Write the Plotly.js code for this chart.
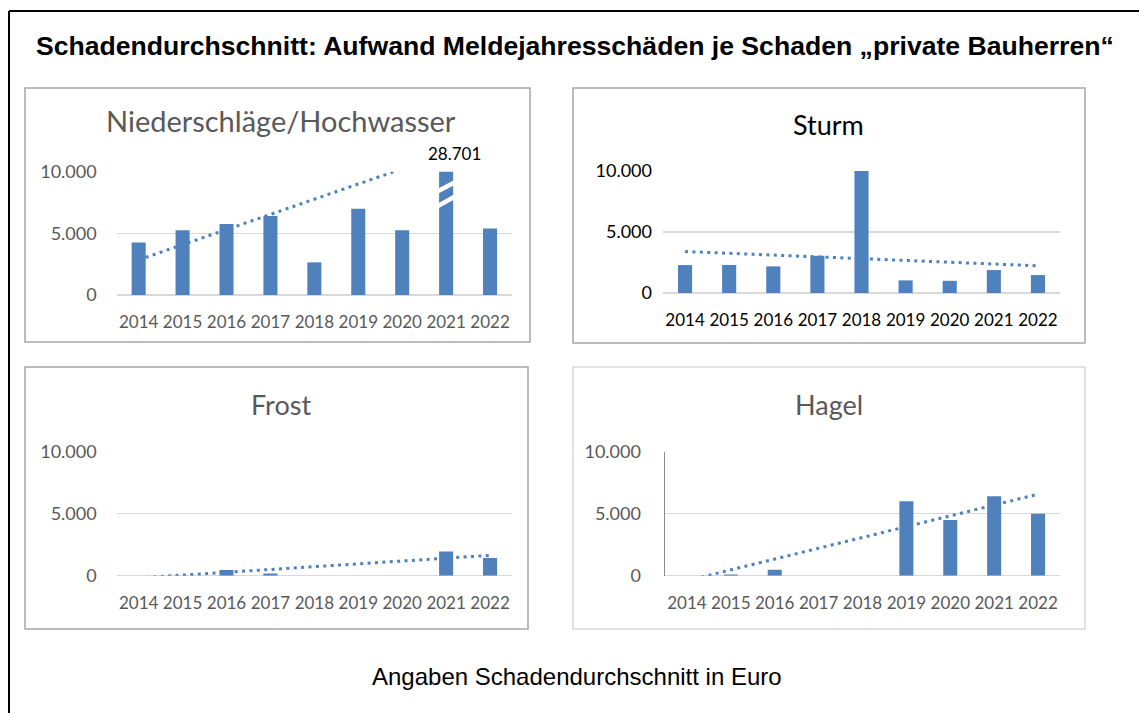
<!DOCTYPE html>
<html>
<head>
<meta charset="utf-8">
<script src="https://cdn.plot.ly/plotly-3.0.1.min.js"></script>
<style>
  html, body { margin: 0; padding: 0; background: #fff; }
  #chart { width: 1139px; height: 713px; }
</style>
</head>
<body>
<div id="chart"></div>
<script>
// ---------------- data ----------------
const years = ["2014", "2015", "2016", "2017", "2018", "2019", "2020", "2021", "2022"];

const niederschlaege = [4250, 5250, 5750, 6400, 2650, 7000, 5250, 28701, 5400];
const sturm          = [2290, 2300, 2180, 3050, 10000, 1035, 1000, 1880, 1470];
const frost          = [0, 0, 450, 180, 0, 0, 0, 1950, 1420];
const hagel          = [0, 100, 480, 0, 0, 6000, 4490, 6400, 5000];

// linear trend lines (value at first and last year)
const trendYears          = ["2014", "2022"];
const trendNiederschlaege = [2850, 12690];
const trendSturm          = [3400, 2230];
const trendFrost          = [-180, 1640];
const trendHagel          = [-400, 6570];

const panelTitles = ["Niederschläge/Hochwasser", "Sturm", "Frost", "Hagel"];
const yTickValues = [0, 5000, 10000];
const outlierLabel = "28.701";
const outlierYear = "2021";

const mainTitle = "Schadendurchschnitt: Aufwand Meldejahresschäden je Schaden „private Bauherren“";
const caption = "Angaben Schadendurchschnitt in Euro";

// ---------------- layout helpers ----------------
const W = 1139, H = 713;
const fx = x => x / W;
const fy = y => 1 - y / H;

const BAR = "rgb(79,129,189)";
const GRID = "#d9d9d9";
const FONT = "Lato, 'Open Sans', sans-serif";

const panels = [
  { data: niederschlaege, trend: trendNiederschlaege, x: [116.7, 512], y: [171.7, 295], color: "#595959", standoff: 19, title: [281, 120, 29], border: [25, 88, 530, 342, "#a6a6a6"], axisLine: false },
  { data: sturm,          trend: trendSturm,          x: [663, 1060],  y: [171, 293],   color: "#000000", standoff: 10, title: [828, 124, 27], border: [573, 88, 1085, 343, "#a6a6a6"], axisLine: false },
  { data: frost,          trend: trendFrost,          x: [116.7, 512], y: [451.7, 575.7], color: "#595959", standoff: 19, title: [281, 404, 27], border: [25, 367, 528, 629, "#a6a6a6"], axisLine: false },
  { data: hagel,          trend: trendHagel,          x: [665, 1060],  y: [451.7, 575.7], color: "#595959", standoff: 19, title: [829, 404, 27], border: [573, 367, 1085, 629, "#d9d9d9"], axisLine: true }
];

const traces = [];
const layout = {
  width: W, height: H,
  margin: { l: 0, r: 0, t: 0, b: 0 },
  paper_bgcolor: "#fff", plot_bgcolor: "rgba(0,0,0,0)",
  showlegend: false,
  separators: ",.",
  bargap: 0.68,
  shapes: [], annotations: []
};

panels.forEach((p, i) => {
  const n = i + 1;
  const xa = "x" + (n === 1 ? "" : n), ya = "y" + (n === 1 ? "" : n);
  const xKey = "xaxis" + (n === 1 ? "" : n), yKey = "yaxis" + (n === 1 ? "" : n);

  traces.push({
    type: "bar", x: years, y: p.data, xaxis: xa, yaxis: ya,
    marker: { color: BAR, line: { width: 0 } }, cliponaxis: true, hoverinfo: "skip"
  });
  traces.push({
    type: "scatter", mode: "lines", x: trendYears, y: p.trend, xaxis: xa, yaxis: ya,
    line: { color: BAR, width: 3, dash: "3px,4.4px" }, hoverinfo: "skip"
  });

  layout[xKey] = {
    domain: [fx(p.x[0]), fx(p.x[1])], anchor: ya,
    type: "category", categoryorder: "array", categoryarray: years,
    range: [-0.5, years.length - 0.5],
    showgrid: false, zeroline: false, showline: false, ticks: "",
    ticklabelstandoff: 15,
    tickfont: { family: FONT, size: 17, color: p.color },
    fixedrange: true
  };
  layout[yKey] = {
    domain: [fy(p.y[1]), fy(p.y[0])], anchor: xa,
    range: [0, 10000], tickvals: yTickValues, tickformat: ",d",
    showgrid: true, gridcolor: GRID, gridwidth: 1.5,
    zeroline: true, zerolinecolor: GRID, zerolinewidth: 1.5,
    showline: p.axisLine, linecolor: "#8c8c8c", linewidth: 1.5,
    ticks: "", ticklabelstandoff: p.standoff,
    tickfont: { family: FONT, size: 18, color: p.color },
    fixedrange: true
  };

  // panel frame
  const b = p.border;
  layout.shapes.push({ type: "rect", xref: "paper", yref: "paper", x0: fx(b[0]), x1: fx(b[2]), y0: fy(b[3]), y1: fy(b[1]), line: { color: b[4], width: 1.5 }, fillcolor: "rgba(0,0,0,0)", layer: "below" });

  // panel title
  layout.annotations.push({
    xref: "paper", yref: "paper", x: fx(p.title[0]), y: fy(p.title[1]),
    xanchor: "center", yanchor: "middle", showarrow: false,
    text: panelTitles[i], font: { family: FONT, size: p.title[2], color: p.color }
  });
});

// axis break marks on the clipped outlier bar + its value label
const oi = years.indexOf(outlierYear);
[[8600, 8950], [7390, 7790]].forEach(yy => {
  layout.shapes.push({ type: "line", xref: "x", yref: "y", x0: oi - 0.2, x1: oi + 0.2, y0: yy[0] - 200, y1: yy[1] + 200, line: { color: "#fff", width: 4.5 }, layer: "above" });
});
layout.annotations.push({
  xref: "x", yref: "y", x: oi, y: 9990, xshift: 8, yshift: 18,
  showarrow: false, text: outlierLabel, font: { family: FONT, size: 17, color: "#000" }
});

// outer frame (left + top)
layout.shapes.push({ type: "line", xref: "paper", yref: "paper", x0: fx(9), x1: fx(9), y0: fy(11), y1: 0, line: { color: "#000", width: 2 } });
layout.shapes.push({ type: "line", xref: "paper", yref: "paper", x0: fx(9), x1: 1, y0: fy(11), y1: fy(11), line: { color: "#000", width: 2 } });

layout.annotations.push({
  xref: "paper", yref: "paper", x: fx(575), y: fy(46), xanchor: "center", yanchor: "middle", showarrow: false,
  text: "<b>" + mainTitle + "</b>", font: { family: "'Liberation Sans', Arial, sans-serif", size: 26.6, color: "#000" }
});
layout.annotations.push({
  xref: "paper", yref: "paper", x: fx(577), y: fy(676), xanchor: "center", yanchor: "middle", showarrow: false,
  text: caption, font: { family: "'Liberation Sans', Arial, sans-serif", size: 24, color: "#000" }
});

Plotly.newPlot("chart", traces, layout, { staticPlot: true, displayModeBar: false });
</script>
</body>
</html>
